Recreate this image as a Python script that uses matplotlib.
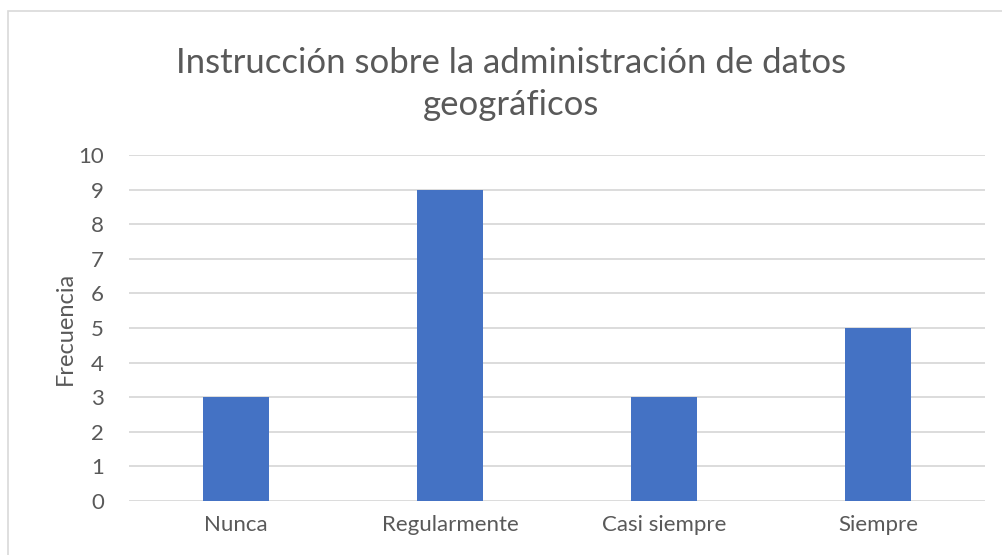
import matplotlib.pyplot as plt
from matplotlib.patches import Rectangle

# Data
categorias = ["Nunca", "Regularmente", "Casi siempre", "Siempre"]
frecuencia = [3, 9, 3, 5]
y_ticks = list(range(0, 11))

text_color = "#595959"
grid_color = "#D9D9D9"
bar_color = "#4472C4"

plt.rcParams["font.family"] = ["Lato", "DejaVu Sans"]

fig = plt.figure(figsize=(10.02, 5.55), dpi=100)
ax = fig.add_axes([129 / 1002, 1 - 501 / 555, 856 / 1002, 346 / 555])

x = range(len(categorias))
ax.bar(x, frecuencia, width=0.31, color=bar_color, zorder=3)

ax.set_xlim(-0.5, len(categorias) - 0.5)
ax.set_ylim(0, 10)
ax.set_yticks(y_ticks)
ax.set_xticks(list(x))
ax.set_xticklabels(categorias)

ax.grid(axis="y", color=grid_color, linewidth=1.3, zorder=0)
for s in ax.spines.values():
    s.set_visible(False)
ax.tick_params(axis="both", length=0, labelsize=16, colors=text_color)
ax.tick_params(axis="y", pad=18)
ax.tick_params(axis="x", pad=10)

ax.set_ylabel("Frecuencia", fontsize=17, color=text_color, labelpad=2)

fig.text(0.510, 1 - 84 / 555, "Instrucción sobre la administración de datos\ngeográficos",
         ha="center", va="center", fontsize=25, color=text_color, linespacing=1.35)

# chart border
fig.patches.append(Rectangle((8 / 1002, -0.1), 1.1, 1.1 - 11 / 555,
                             transform=fig.transFigure, fill=False,
                             edgecolor=grid_color, linewidth=1.2))

fig.savefig("out.png", dpi=100)
